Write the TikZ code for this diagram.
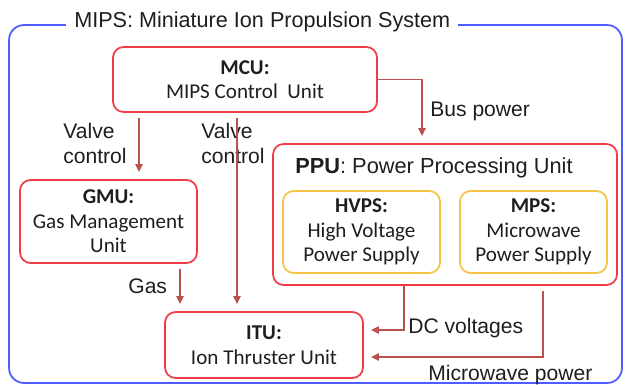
\documentclass[tikz,border=0pt]{standalone}
\usepackage{fontspec}
\setmainfont{Liberation Sans}
\newfontfamily\boxfont{Carlito}
\usepackage{tikz}
\usetikzlibrary{arrows.meta,positioning,calc}
\definecolor{cSysB}{HTML}{4D5BFF}
\definecolor{cUnitB}{HTML}{EF3B45}
\definecolor{cSupB}{HTML}{F5C443}
\definecolor{cArr}{HTML}{B9514F}
\definecolor{cTxt}{HTML}{1E1E1E}
\tikzset{
  sysbox/.style={draw=cSysB, line width=1pt, rounded corners=8.5pt, inner sep=0pt},
  systitle/.style={fill=white, inner xsep=4.5pt, inner ysep=1pt, text=cTxt,
                   font=\fontsize{12.3}{14}\selectfont},
  unitbox/.style={draw=cUnitB, line width=1pt, rounded corners=6pt, align=center,
                  inner sep=0pt, text=cTxt, font=\boxfont\fontsize{12}{14}\selectfont},
  supbox/.style={unitbox, draw=cSupB},
  grplbl/.style={inner sep=0pt, text=cTxt, font=\fontsize{12.4}{14}\selectfont},
  linkarr/.style={-{Triangle[length=4.6pt,width=4.2pt]}, line width=0.9pt, draw=cArr,
                  shorten <=3pt, shorten >=4pt},
  linklbl/.style={inner sep=0pt, align=left, text=cTxt, font=\fontsize{12}{14.2}\selectfont},
}
\newcommand{\uhd}[1]{\textbf{#1}\\}

\begin{document}
\begin{tikzpicture}[x=0.02cm, y=-0.02cm]
\useasboundingbox (0,0) rectangle (625,385);
% system frame and its title
\node[sysbox, minimum width=12.26cm, minimum height=7.16cm] (mips) at (315.5,204) {};
\node[systitle, anchor=base west] (mipslbl) at (66,28) {MIPS: Miniature Ion Propulsion System};
% units
\node[unitbox, minimum width=5.28cm, minimum height=1.30cm] (mcu) at (245,79.5)
  {\uhd{MCU:}MIPS Control\ \ Unit};
\node[unitbox, minimum width=3.54cm, minimum height=1.66cm] (gmu) at (108.5,221.5)
  {\uhd{GMU:}Gas Management\\Unit};
\node[unitbox, minimum width=6.88cm, minimum height=2.82cm] (ppu) at (445,214.5) {};
\node[grplbl, anchor=base west] (ppulbl) at (295,173) {\textbf{PPU}: Power Processing Unit};
\node[supbox, minimum width=3.14cm, minimum height=1.64cm] (hvps) at (361.5,232)
  {\uhd{HVPS:}High Voltage\\Power Supply};
\node[supbox, minimum width=2.94cm, minimum height=1.64cm] (mps) at (533.5,232)
  {\uhd{MPS:}Microwave\\Power Supply};
\node[unitbox, minimum width=3.96cm, minimum height=1.32cm] (itu) at (264,345)
  {\uhd{ITU:}Ion Thruster Unit};
% labels
\node[linklbl, anchor=west] (vclbl1) at (63,143) {Valve\\control};
\node[linklbl, anchor=west] (vclbl2) at (201,143) {Valve\\control};
\node[linklbl, anchor=base west] (buslbl) at (430,116) {Bus power};
\node[linklbl, anchor=base west] (gaslbl) at (128,293) {Gas};
\node[linklbl, anchor=base west] (dclbl) at (408,333) {DC voltages};
\node[linklbl, anchor=base west] (mwlbl) at (428,380) {Microwave power};
% connectors
\coordinate (vc1) at (139,0);
\coordinate (vc2) at (237,0);
\coordinate (gas) at (180,0);
\coordinate (bus) at (422,0);
\coordinate (dc) at (404,330);
\coordinate (mw) at (543,357);
\draw[linkarr] (vc1 |- mcu.south) -- (vc1 |- gmu.north);
\draw[linkarr] (vc2 |- mcu.south) -- (vc2 |- itu.north);
\draw[linkarr] (gas |- gmu.south) -- (gas |- itu.north);
\draw[linkarr, shorten <=0pt] (mcu.east) -| (bus |- ppu.north);
\draw[linkarr, shorten <=0pt] (dc |- ppu.south) -- (dc) -- (dc -| itu.east);
\draw[linkarr] (mw |- ppu.south) -- (mw) -- (mw -| itu.east);
\end{tikzpicture}
\end{document}
